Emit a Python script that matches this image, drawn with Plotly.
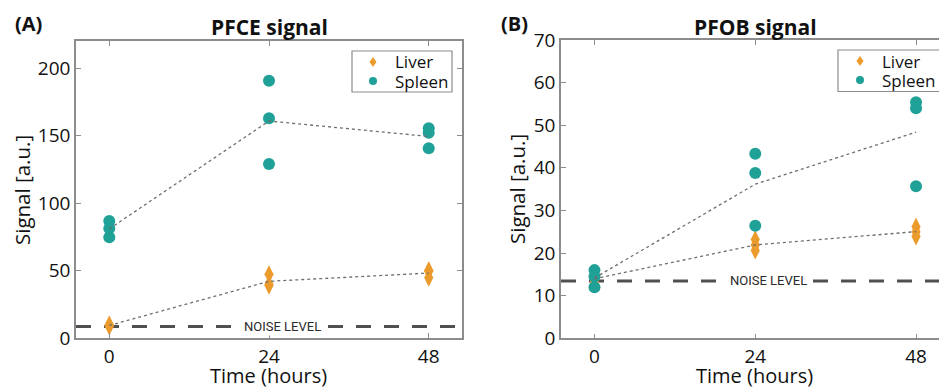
import numpy as np
import plotly.graph_objects as go

# ---------------- data ----------------
time_points = [0, 24, 48]
x_tick_labels = ["0", "24", "48"]

# Panel A: PFCE signal (3 animals per time point)
pfce_liver_t = [0, 0, 0, 24, 24, 24, 48, 48, 48]
pfce_liver = [8.5, 9.5, 10.0, 47.2, 38.8, 40.0, 50.1, 44.7, 49.5]
pfce_spleen_t = [0, 0, 0, 24, 24, 24, 48, 48, 48]
pfce_spleen = [86.7, 81.2, 74.6, 190.6, 162.7, 128.9, 155.3, 152.1, 140.5]
pfce_noise = 8.6
pfce_yticks = [0, 50, 100, 150, 200]

# Panel B: PFOB signal
pfob_liver_t = [0, 0, 0, 24, 24, 24, 48, 48, 48]
pfob_liver = [13.3, 14.0, 14.6, 23.2, 21.9, 20.6, 26.2, 25.0, 23.9]
pfob_spleen_t = [0, 0, 0, 24, 24, 24, 48, 48, 48]
pfob_spleen = [16.0, 14.5, 12.0, 43.3, 38.8, 26.4, 55.4, 54.0, 35.7]
pfob_noise = 13.45
pfob_yticks = [0, 10, 20, 30, 40, 50, 60, 70]

series_names = ["Liver", "Spleen"]
panel_titles = ["PFCE signal", "PFOB signal"]
panel_labels = ["(A)", "(B)"]
noise_text = "NOISE LEVEL"

# ---------------- styles ----------------
ORANGE = "#eb9a2c"
TEAL = "#1fa198"
FRAME = "#8c8c8c"
FONT = "Open Sans"
W, H = 939, 388


def px(x):
    return x / W


def py(y):
    return (H - y) / H


def means(ts, vs):
    ts = np.asarray(ts)
    vs = np.asarray(vs, dtype=float)
    return [float(vs[ts == t].mean()) for t in time_points]


fig = go.Figure()

panels = [
    dict(xa="x", ya="y", lt=pfce_liver_t, lv=pfce_liver, st=pfce_spleen_t, sv=pfce_spleen,
         noise=pfce_noise),
    dict(xa="x2", ya="y2", lt=pfob_liver_t, lv=pfob_liver, st=pfob_spleen_t, sv=pfob_spleen,
         noise=pfob_noise),
]

for p in panels:
    fig.add_trace(go.Scatter(x=p["lt"], y=p["lv"], mode="markers", name=series_names[0],
                             marker=dict(symbol="diamond-tall", size=13, color=ORANGE),
                             xaxis=p["xa"], yaxis=p["ya"], showlegend=False))
    fig.add_trace(go.Scatter(x=p["st"], y=p["sv"], mode="markers", name=series_names[1],
                             marker=dict(symbol="circle", size=12, color=TEAL),
                             xaxis=p["xa"], yaxis=p["ya"], showlegend=False))
    for tv, vv in ((p["lt"], p["lv"]), (p["st"], p["sv"])):
        fig.add_trace(go.Scatter(x=time_points, y=means(tv, vv), mode="lines",
                                 line=dict(color="#6e6e6e", width=1.3, dash="dot"),
                                 showlegend=False, hoverinfo="skip",
                                 xaxis=p["xa"], yaxis=p["ya"]))
    # noise level line
    fig.add_shape(type="line", xref=f"{p['xa']} domain", yref=p["ya"],
                  x0=0, x1=1, y0=p["noise"], y1=p["noise"],
                  line=dict(color="#505050", width=3, dash="15px,13px"), layer="below")
    fig.add_annotation(x=26, y=p["noise"], xref=p["xa"], yref=p["ya"], text=noise_text,
                       showarrow=False, bgcolor="white", borderpad=1,
                       font=dict(family="Roboto", size=13, color="#2a2a2a"))

axis_common = dict(showgrid=False, zeroline=False, showline=True, linecolor=FRAME, linewidth=1.5,
                   ticks="inside", ticklen=5, tickcolor=FRAME, tickwidth=1.2,
                   tickfont=dict(family=FONT, size=19, color="#111"))

fig.update_layout(
    width=W, height=H, margin=dict(l=0, r=0, t=0, b=0, autoexpand=False),
    paper_bgcolor="white", plot_bgcolor="white", showlegend=False,
    xaxis=dict(domain=[px(76), px(462)], range=[-5, 53], tickvals=time_points,
               ticktext=x_tick_labels, mirror="ticks", anchor="y", **axis_common),
    yaxis=dict(domain=[py(338), py(41)], range=[0, 220], tickvals=pfce_yticks,
               mirror="ticks", anchor="x", **axis_common),
    xaxis2=dict(domain=[px(561), 1.0], range=[-5, 48 + (939 - 916) / 161 * 24],
                tickvals=time_points, ticktext=x_tick_labels, mirror="ticks", anchor="y2",
                **axis_common),
    yaxis2=dict(domain=[py(338.3), py(40)], range=[0, 70], tickvals=pfob_yticks,
                mirror=False, anchor="x2", **axis_common),
)

# ---------------- legends (drawn as box + symbols + text) ----------------
legend_boxes = [(352, 51, 452, 92, 373, 394), (838, 50, 960, 91.5, 860, 881)]
for x0, y0, x1, y1, sx, tx in legend_boxes:
    fig.add_shape(type="rect", xref="paper", yref="paper", x0=px(x0), x1=px(x1),
                  y0=py(y1), y1=py(y0), line=dict(color=FRAME, width=1.2), fillcolor="white")
    row_y = [y0 + 11, y0 + 30]
    # diamond for Liver
    cy = row_y[0]
    fig.add_shape(type="path", xref="paper", yref="paper",
                  path=f"M {px(sx)} {py(cy - 5)} L {px(sx + 3.5)} {py(cy)} L {px(sx)} {py(cy + 5)} "
                       f"L {px(sx - 3.5)} {py(cy)} Z",
                  fillcolor=ORANGE, line=dict(width=0))
    # circle for Spleen
    cy = row_y[1]
    fig.add_shape(type="circle", xref="paper", yref="paper",
                  x0=px(sx - 4), x1=px(sx + 4), y0=py(cy + 4), y1=py(cy - 4),
                  fillcolor=TEAL, line=dict(width=0))
    for name, ry in zip(series_names, row_y):
        fig.add_annotation(x=px(tx), y=py(ry), xref="paper", yref="paper", text=name,
                           showarrow=False, xanchor="left", yanchor="middle", borderpad=0,
                           font=dict(family=FONT, size=17, color="#111"))

ann_font = dict(family=FONT, color="#111")
texts = [
    (panel_labels[0], 28, 23, 20, True, 0),
    (panel_labels[1], 514, 23, 20, True, 0),
    (panel_titles[0], 269, 27, 21, True, 0),
    (panel_titles[1], 755, 27, 21, True, 0),
    ("Signal [a.u.]", 22, 190, 20.5, False, -90),
    ("Signal [a.u.]", 517, 189, 20.5, False, -90),
    ("Time (hours)", 268, 375, 20, False, 0),
    ("Time (hours)", 754, 375, 20, False, 0),
]
for txt, x_, y_, size, bold, ang in texts:
    fig.add_annotation(x=px(x_), y=py(y_), xref="paper", yref="paper",
                       text=f"<b>{txt}</b>" if bold else txt, showarrow=False,
                       textangle=ang, xanchor="center", yanchor="middle", borderpad=0,
                       font=dict(size=size, **ann_font))

fig.write_html("out.html", config={"displayModeBar": False},
               post_script="document.body.style.margin='0px';document.body.style.overflow='hidden';")
